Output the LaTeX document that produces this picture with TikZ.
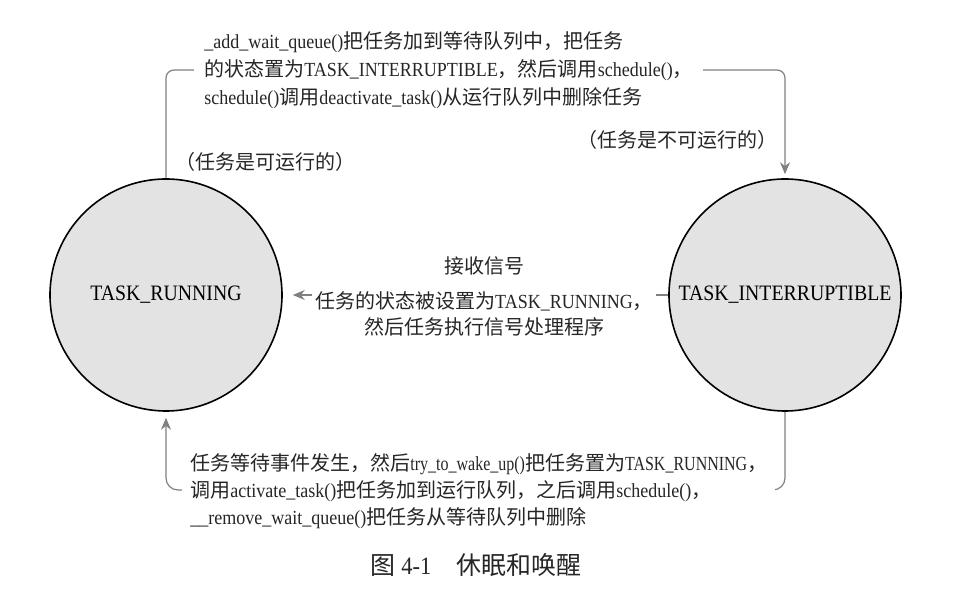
\documentclass[tikz,border=0pt]{standalone}
\usepackage{fontspec}
\setmainfont{Noto Sans CJK SC}
\newfontfamily\enfont[FakeStretch=0.9]{Liberation Serif}
\newfontfamily\enfontc[FakeStretch=0.8]{Liberation Serif}
\newcommand\en[1]{{\enfont #1}}
\newcommand\enc[1]{{\enfontc #1}}
\usetikzlibrary{arrows.meta}

\begin{document}
\begin{tikzpicture}[x=0.5pt,y=-0.5pt,
    state/.style={draw,circle,thick,fill=black!11,minimum size=116pt,inner sep=0pt,text=black,font=\enfont\fontsize{11}{12}\selectfont},
    flow/.style={draw=black!50,line width=0.6pt,-{Stealth[length=6pt,width=5pt]}},
    note/.style={text=black!85,inner sep=1.5pt,font=\fontsize{10}{14}\selectfont}]
    \useasboundingbox (0,0) rectangle (954,597);

    \node[state] (run) at (166,295) {TASK\_RUNNING};
    \node[state] (intr) at (785,295) {TASK\_INTERRUPTIBLE};

    \draw[flow,rounded corners=4pt,shorten >=2pt] (run.north) -- (run.north |- 0,70) -- (intr.north |- 0,70) -- (intr.north);
    \draw[flow,shorten >=5pt] (intr.west) -- (run.east);
    \draw[flow,rounded corners=6pt,shorten >=3pt] (intr.south) -- (intr.south |- 0,490) -- (run.south |- 0,490) -- (run.south);

    \node[note,fill=white,anchor=west,align=left,inner xsep=5pt] (sleep) at (194,70)
        {\en{\_add\_wait\_queue()}把任务加到等待队列中，把任务\\
         的状态置为\en{TASK\_INTERRUPTIBLE}，然后调用\en{schedule()}，\\
         \en{schedule()}调用\en{deactivate\_task()}从运行队列中删除任务};
    \node[note,anchor=west] (runok) at (172,162) {（任务是可运行的）};
    \node[note,anchor=east] (intrno) at (781,140) {（任务是不可运行的）};
    \node[note,fill=white,align=center,font=\fontsize{10}{13}\selectfont] (signal) at (484,296)
        {接收信号\\[4.5pt]
         任务的状态被设置为\en{TASK\_RUNNING}，\\
         然后任务执行信号处理程序};
    \node[note,fill=white,anchor=west,align=left,inner xsep=4pt,font=\fontsize{10}{13.5}\selectfont] (wake) at (182,491)
        {任务等待事件发生，然后\enc{try\_to\_wake\_up()}把任务置为\enc{TASK\_RUNNING}，\\
         调用\en{activate\_task()}把任务加到运行队列，之后调用\en{schedule()}，\\
         \en{\_\_remove\_wait\_queue()}把任务从等待队列中删除};

    \node[note,font=\fontsize{12.5}{14}\selectfont] (caption) at (476,565) {图 \en{4-1}\quad 休眠和唤醒};
\end{tikzpicture}
\end{document}
